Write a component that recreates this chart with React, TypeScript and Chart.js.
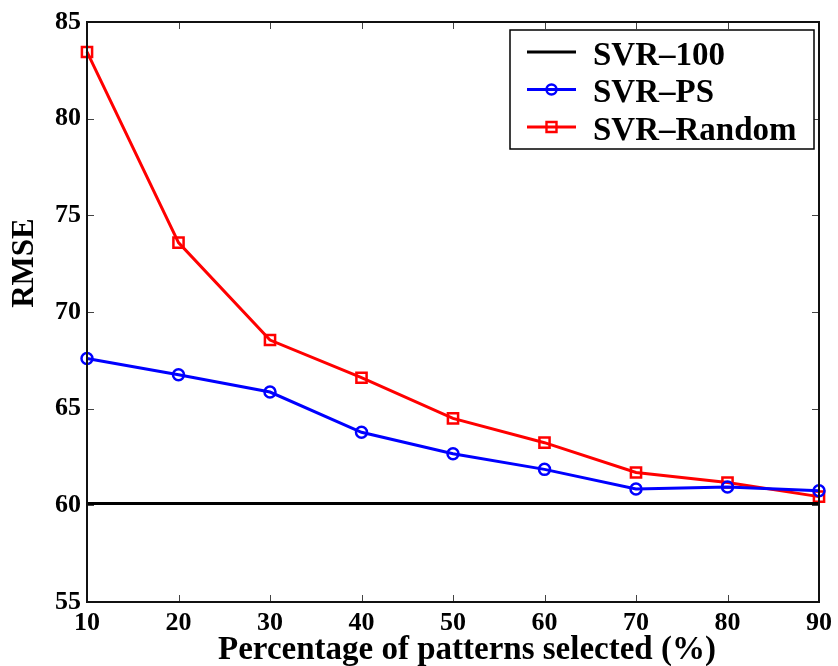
import React, { useEffect, useRef } from "react";
import { Chart, registerables } from "chart.js";

Chart.register(...registerables);

const xValues = [10, 20, 30, 40, 50, 60, 70, 80, 90];
const svr100 = [60.1, 60.1, 60.1, 60.1, 60.1, 60.1, 60.1, 60.1, 60.1];
const svrPS = [67.6, 66.75, 65.86, 63.78, 62.67, 61.86, 60.85, 60.95, 60.75];
const svrRandom = [83.45, 73.59, 68.55, 66.6, 64.5, 63.24, 61.7, 61.18, 60.45];
const xTickValues = [10, 20, 30, 40, 50, 60, 70, 80, 90];
const yTickValues = [55, 60, 65, 70, 75, 80, 85];
const xTitle = "Percentage of patterns selected (%)";
const yTitle = "RMSE";
const seriesLabels = ["SVR\u2013100", "SVR\u2013PS", "SVR\u2013Random"];

const FONT = '"Liberation Serif", "Times New Roman", serif';

const framePlugin = {
  id: "frameAndLegend",
  afterDraw(chart: any) {
    const { ctx, chartArea, scales } = chart;
    const { left, right, top, bottom } = chartArea;
    const xs = scales.x;
    const ys = scales.y;
    ctx.save();
    // inward ticks
    ctx.strokeStyle = "#444";
    ctx.lineWidth = 1;
    ctx.beginPath();
    xTickValues.slice(1, -1).forEach((v) => {
      const px = Math.round(xs.getPixelForValue(v)) + 0.5;
      ctx.moveTo(px, bottom);
      ctx.lineTo(px, bottom - 7);
      ctx.moveTo(px, top);
      ctx.lineTo(px, top + 7);
    });
    yTickValues.slice(1, -1).forEach((v) => {
      const py = Math.round(ys.getPixelForValue(v)) + 0.5;
      ctx.moveTo(left, py);
      ctx.lineTo(left + 7, py);
      ctx.moveTo(right, py);
      ctx.lineTo(right - 7, py);
    });
    ctx.stroke();
    // frame
    ctx.strokeStyle = "#111";
    ctx.lineWidth = 2;
    ctx.strokeRect(left, top, right - left, bottom - top);

    // titles
    ctx.fillStyle = "#000";
    ctx.font = `bold 33px ${FONT}`;
    ctx.textAlign = "center";
    ctx.textBaseline = "alphabetic";
    ctx.fillText(xTitle, 467, 659);
    ctx.save();
    ctx.translate(33, 263);
    ctx.rotate(-Math.PI / 2);
    ctx.font = `bold 31px ${FONT}`;
    ctx.fillText(yTitle, 0, 0);
    ctx.restore();

    // legend
    const bx = 510, by = 30, bw = 304, bh = 119;
    ctx.fillStyle = "#fff";
    ctx.fillRect(bx, by, bw, bh);
    ctx.strokeStyle = "#000";
    ctx.lineWidth = 1.5;
    ctx.strokeRect(bx, by, bw, bh);
    const centers = [52, 89.5, 127];
    chart.data.datasets.forEach((ds: any, i: number) => {
      const cy = centers[i];
      ctx.strokeStyle = ds.borderColor;
      ctx.lineWidth = 3;
      ctx.beginPath();
      ctx.moveTo(527, cy);
      ctx.lineTo(576, cy);
      ctx.stroke();
      if (ds.pointRadius > 0) {
        ctx.lineWidth = 2.4;
        ctx.beginPath();
        if (ds.pointStyle === "circle") {
          ctx.arc(551.5, cy, 5, 0, Math.PI * 2);
        } else {
          ctx.rect(546.5, cy - 5, 10, 10);
        }
        ctx.stroke();
      }
      ctx.fillStyle = "#000";
      ctx.font = `bold 33px ${FONT}`;
      ctx.textAlign = "left";
      ctx.fillText(ds.label, 593, cy + 12.5);
    });
    ctx.restore();
  },
};

export default function App() {
  const ref = useRef<HTMLCanvasElement | null>(null);
  useEffect(() => {
    document.body.style.margin = "0";
    const canvas = ref.current!;
    const toPts = (arr: number[]) => xValues.map((x, i) => ({ x, y: arr[i] }));
    const chart = new Chart(canvas, {
      type: "line",
      data: {
        datasets: [
          {
            label: seriesLabels[0],
            data: toPts(svr100),
            borderColor: "#000000",
            backgroundColor: "#000000",
            borderWidth: 3,
            pointRadius: 0,
            pointStyle: false as any,
            clip: false as any,
          },
          {
            label: seriesLabels[1],
            data: toPts(svrPS),
            borderColor: "#0000ff",
            backgroundColor: "rgba(0,0,0,0)",
            borderWidth: 3,
            pointRadius: 5.5,
            pointBorderWidth: 2.5,
            pointStyle: "circle",
            clip: false as any,
          },
          {
            label: seriesLabels[2],
            data: toPts(svrRandom),
            borderColor: "#ff0000",
            backgroundColor: "rgba(0,0,0,0)",
            borderWidth: 3,
            pointRadius: 7.2,
            pointBorderWidth: 2.5,
            pointStyle: "rect",
            clip: false as any,
          },
        ],
      },
      options: {
        animation: false,
        responsive: false,
        maintainAspectRatio: false,
        layout: { padding: { top: 22, right: 15, left: 0, bottom: 0 } },
        plugins: { legend: { display: false }, tooltip: { enabled: false } },
        scales: {
          x: {
            type: "linear",
            min: 10,
            max: 90,
            afterFit: (s: any) => {
              s.height = 64;
            },
            afterBuildTicks: (s: any) => {
              s.ticks = xTickValues.map((v) => ({ value: v }));
            },
            grid: { display: false, drawTicks: false, tickLength: 0 },
            border: { display: false },
            ticks: {
              color: "#000",
              padding: 6,
              maxRotation: 0,
              font: { family: FONT, size: 26, weight: "bold" },
            },
          },
          y: {
            type: "linear",
            min: 55,
            max: 85,
            afterFit: (s: any) => {
              s.width = 87;
            },
            afterBuildTicks: (s: any) => {
              s.ticks = yTickValues.map((v) => ({ value: v }));
            },
            grid: { display: false, drawTicks: false, tickLength: 0 },
            border: { display: false },
            ticks: {
              color: "#000",
              padding: 6,
              font: { family: FONT, size: 26, weight: "bold" },
            },
          },
        },
      } as any,
      plugins: [framePlugin],
    });
    return () => chart.destroy();
  }, []);
  return (
    <div style={{ position: "absolute", left: 0, top: 0, width: 838, height: 666, background: "#fff" }}>
      <canvas ref={ref} width={838} height={666} />
    </div>
  );
}
